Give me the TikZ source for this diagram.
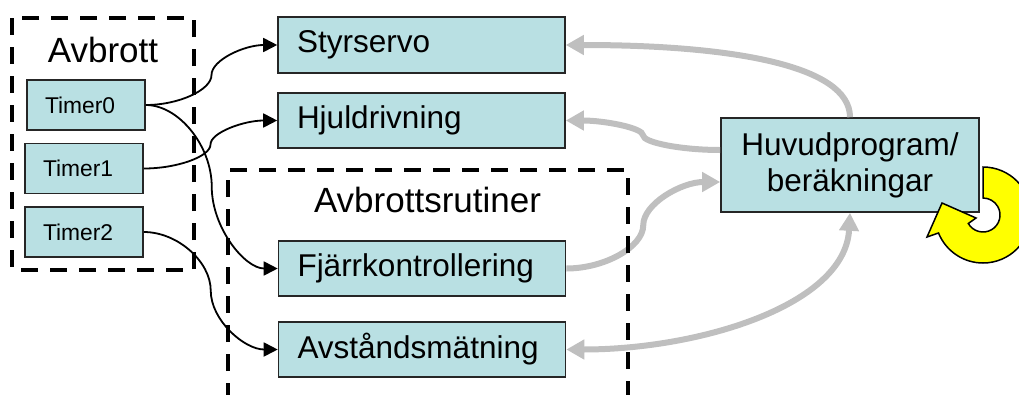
\documentclass[tikz,border=0pt]{standalone}
\usepackage{fontspec}
\setmainfont{Liberation Sans}
\usetikzlibrary{arrows.meta,calc}
\definecolor{boxfill}{RGB}{185,224,227}
\definecolor{greyarrow}{RGB}{191,191,191}
\definecolor{ringyellow}{RGB}{255,255,0}
\tikzset{
  cc/.style={to path={let \p1=(\tikztostart), \p2=(\tikztotarget),
      \p3=($(\p1)!0.5!(\p2)$), \p4=($(\p1)!0.25!(\p2)$), \p5=($(\p1)!0.75!(\p2)$) in
      .. controls (\x4,\y1) and (\x3,\y4) .. (\p3)
      .. controls (\x3,\y5) and (\x5,\y2) .. (\p2) \tikztonodes}},
  box/.style={draw=black!85, line width=1.6pt, fill=boxfill, minimum height=56pt,
      minimum width=287pt, text width=249pt, inner xsep=19pt, inner ysep=0pt,
      align=left, font=\fontsize{31.5}{36}\selectfont},
  timerbox/.style={box, minimum width=118pt, minimum height=50pt, text width=82pt,
      inner xsep=18pt, font=\fontsize{22.8}{27}\selectfont},
  mainbox/.style={draw=black!85, line width=1.6pt, fill=boxfill, minimum width=258pt,
      minimum height=94pt, inner sep=0pt, align=center,
      font=\fontsize{31.5}{36}\selectfont},
  title/.style={anchor=base, inner sep=0pt, font=\fontsize{35}{40}\selectfont},
  conn/.style={draw=black, line width=1.8pt, -{Triangle[length=14pt,width=14pt]}},
  gconn/.style={draw=greyarrow, line width=6pt, -{Triangle[length=18pt,width=19pt]}},
  gconnboth/.style={draw=greyarrow, line width=6pt,
      {Triangle[length=18pt,width=19pt]}-{Triangle[length=18pt,width=19pt]}},
  frame/.style={draw=black, line width=4pt, dash pattern=on 17pt off 12pt},
  ring/.style={fill=ringyellow, draw=black, line width=1.5pt, line join=miter}
}
\begin{document}
\begin{tikzpicture}[x=1pt,y=-1pt]
\useasboundingbox (0,0) rectangle (1019,394);

% boxes
\node[timerbox] (t0) at (86,105) {Timer0};
\node[timerbox] (t1) at (84,168.5) {Timer1};
\node[timerbox] (t2) at (84,232) {Timer2};
\node[box] (sty) at (421.5,45) {Styrservo};
\node[box, minimum height=55pt] (hj) at (421.5,120.5) {Hjuldrivning};
\node[box, minimum height=55pt] (fj) at (422,268.5) {Fjärrkontrollering};
\node[box, minimum height=55pt] (avs) at (422,349.5) {Avståndsmätning};
\node[mainbox] (hp) at (850,165) {Huvudprogram/\\beräkningar};

% grey connectors
\draw[gconn] (hp.north) .. controls (850,65) and (730,45) .. (sty.east);
\draw[gconn] ($(hp.west)+(0,-15)$) to[cc] (hj.east);
\draw[gconn] (fj.east) to[cc] ($(hp.west)+(0,17)$);
\draw[gconnboth] (hp.south) .. controls (845,305) and (700,349.5) .. (avs.east);

% black connectors
\draw[conn] (t0.east) to[cc] (sty.west);
\draw[conn] (t1.east) to[cc] (hj.west);
\draw[conn] (t0.east) to[cc] (fj.west);
\draw[conn] (t2.east) to[cc] (avs.west);

% dashed frames
\draw[frame] (12,18) rectangle (194,270);
\draw[frame] (228,400) -- (228,170) -- (628,170) -- (628,400);
\node[title] (lblA) at (103,62) {Avbrott};
\node[title] (lblB) at (427.5,212) {Avbrottsrutiner};

% yellow circular arrow
\draw[ring] (983,167) arc[start angle=-90, end angle=158, radius=48]
  -- (927,237) -- (942,203) -- (976,218) -- (968.3,223.5)
  arc[start angle=150, end angle=-90, radius=17] -- cycle;
\end{tikzpicture}
\end{document}
